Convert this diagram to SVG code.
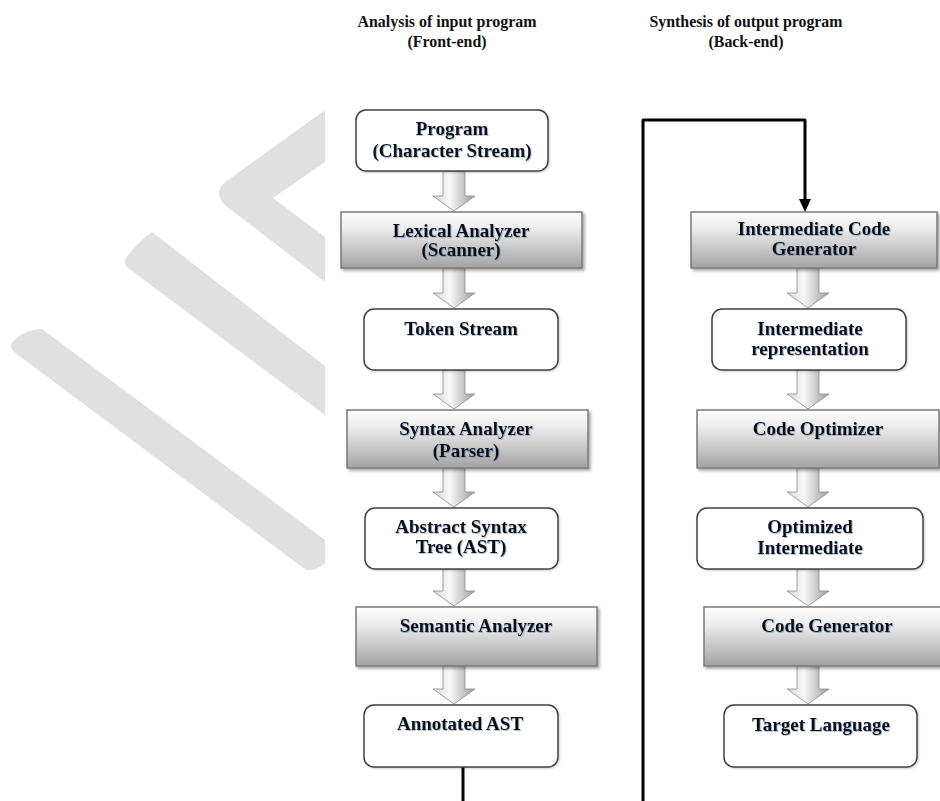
<svg xmlns="http://www.w3.org/2000/svg" width="940" height="801" viewBox="0 0 940 801">
<style>
  .wm { fill: #e0e0e0; }
  .hdr { font-family: "Liberation Serif", "Times New Roman", serif; font-weight: bold; font-size: 16.5px; fill: #111; text-anchor: middle; }
  .lbl { font-family: "Liberation Serif", "Times New Roman", serif; font-weight: bold; font-size: 19px; fill: #111; text-anchor: middle; }
  .rbox { fill: #ffffff; stroke: #404040; stroke-width: 1.5; }
  .gbox { fill: url(#gboxGrad); stroke: #7a7a7a; stroke-width: 1.5; }
  .barrow { fill: url(#arrowGrad); stroke: #8c8c8c; stroke-width: 0.8; }
  .conn { fill: none; stroke: #000; stroke-width: 3; stroke-linejoin: round; }
</style>
<defs>
  <linearGradient id="gboxGrad" x1="0" y1="0" x2="0" y2="1">
    <stop offset="0" stop-color="#fdfdfd"/>
    <stop offset="0.3" stop-color="#ececec"/>
    <stop offset="1" stop-color="#a3a3a3"/>
  </linearGradient>
  <linearGradient id="arrowGrad" x1="0" y1="0" x2="1" y2="0">
    <stop offset="0" stop-color="#d8d8d8"/>
    <stop offset="0.4" stop-color="#f8f8f8"/>
    <stop offset="1" stop-color="#9c9c9c"/>
  </linearGradient>
  <filter id="shadow" x="-10%" y="-10%" width="130%" height="140%">
    <feDropShadow dx="2" dy="2" stdDeviation="1.5" flood-color="#000" flood-opacity="0.35"/>
  </filter>
  <filter id="soft" x="-10%" y="-10%" width="130%" height="140%">
    <feDropShadow dx="1" dy="1" stdDeviation="1" flood-color="#000" flood-opacity="0.2"/>
  </filter>
  <filter id="tshadow" x="-5%" y="-20%" width="110%" height="150%">
    <feDropShadow dx="0.8" dy="0.8" stdDeviation="0.6" flood-color="#4a6fb0" flood-opacity="0.55"/>
  </filter>
  <marker id="ah" markerUnits="userSpaceOnUse" markerWidth="13" markerHeight="12" viewBox="0 0 13 12" refX="3" refY="6" orient="auto">
    <path d="M0,0 L13,6 L0,12 Z" fill="#000"/>
  </marker>
</defs>

<rect x="0" y="0" width="940" height="801" fill="#ffffff"/>

<g id="watermark">
  <path class="wm" d="M325,110 L224,183 Q213,194 226,206 L325,282 L325,237 L273,198 L325,162 Z"/>
  <path class="wm" d="M152,232 L325,366 L325,415 L128,268 Q121,262 129,254 Q139,241 152,232 Z"/>
  <path class="wm" d="M42,329 L325,540 L325,563 Q317,571 306,570 L14,352 Q8,346 14,340 Q26,329 42,329 Z"/>
</g>

<g id="headers">
  <text class="hdr" x="447" y="27" textLength="179" lengthAdjust="spacingAndGlyphs">Analysis of input program</text>
  <text class="hdr" x="447" y="47" textLength="79" lengthAdjust="spacingAndGlyphs">(Front-end)</text>
  <text class="hdr" x="746" y="27" textLength="193" lengthAdjust="spacingAndGlyphs">Synthesis of output program</text>
  <text class="hdr" x="746" y="47" textLength="75" lengthAdjust="spacingAndGlyphs">(Back-end)</text>
</g>

<g id="connectors">
  <path class="barrow" d="M443,171 H465 V196 H475 L454,211 L433,196 H443 Z"/>
  <path class="barrow" d="M443,268 H465 V293 H475 L454,308 L433,293 H443 Z"/>
  <path class="barrow" d="M443,370 H465 V394 H475 L454,409 L433,394 H443 Z"/>
  <path class="barrow" d="M443,468 H465 V492 H475 L454,507 L433,492 H443 Z"/>
  <path class="barrow" d="M443,569 H465 V591 H475 L454,606 L433,591 H443 Z"/>
  <path class="barrow" d="M443,666 H465 V689 H475 L454,704 L433,689 H443 Z"/>
  <path class="barrow" d="M797,268 H819 V293 H829 L808,308 L787,293 H797 Z"/>
  <path class="barrow" d="M797,370 H819 V394 H829 L808,409 L787,394 H797 Z"/>
  <path class="barrow" d="M797,468 H819 V492 H829 L808,507 L787,492 H797 Z"/>
  <path class="barrow" d="M797,569 H819 V591 H829 L808,606 L787,591 H797 Z"/>
  <path class="barrow" d="M797,666 H819 V689 H829 L808,704 L787,689 H797 Z"/>
  <path class="conn" d="M463,767 V806 H643 V120 H805 V202" marker-end="url(#ah)"/>
</g>

<g id="node-program">
  <rect class="rbox" x="356" y="110" width="192" height="61" rx="10" filter="url(#soft)"/>
  <text class="lbl" x="452" y="135" filter="url(#tshadow)">Program</text>
  <text class="lbl" x="452" y="157" filter="url(#tshadow)">(Character Stream)</text>
</g>
<g id="node-lexical">
  <rect class="gbox" x="341" y="212" width="241" height="56" filter="url(#shadow)"/>
  <text class="lbl" x="461" y="237" filter="url(#tshadow)">Lexical Analyzer</text>
  <text class="lbl" x="461" y="256" filter="url(#tshadow)">(Scanner)</text>
</g>
<g id="node-token">
  <rect class="rbox" x="364" y="309" width="194" height="61" rx="10" filter="url(#soft)"/>
  <text class="lbl" x="461" y="335" filter="url(#tshadow)">Token Stream</text>
</g>
<g id="node-syntax">
  <rect class="gbox" x="347" y="410" width="241" height="58" filter="url(#shadow)"/>
  <text class="lbl" x="466" y="435" filter="url(#tshadow)">Syntax Analyzer</text>
  <text class="lbl" x="466" y="457" filter="url(#tshadow)">(Parser)</text>
</g>
<g id="node-ast">
  <rect class="rbox" x="365" y="508" width="193" height="61" rx="10" filter="url(#soft)"/>
  <text class="lbl" x="461" y="533" filter="url(#tshadow)">Abstract Syntax</text>
  <text class="lbl" x="461" y="553" filter="url(#tshadow)">Tree (AST)</text>
</g>
<g id="node-semantic">
  <rect class="gbox" x="356" y="607" width="241" height="59" filter="url(#shadow)"/>
  <text class="lbl" x="476" y="632" filter="url(#tshadow)">Semantic Analyzer</text>
</g>
<g id="node-annotated">
  <rect class="rbox" x="364" y="705" width="194" height="62" rx="10" filter="url(#soft)"/>
  <text class="lbl" x="460" y="730" filter="url(#tshadow)">Annotated AST</text>
</g>

<g id="node-icg">
  <rect class="gbox" x="691" y="212" width="246" height="56" filter="url(#shadow)"/>
  <text class="lbl" x="814" y="235" filter="url(#tshadow)">Intermediate Code</text>
  <text class="lbl" x="814" y="255" filter="url(#tshadow)">Generator</text>
</g>
<g id="node-ir">
  <rect class="rbox" x="712" y="309" width="194" height="61" rx="10" filter="url(#soft)"/>
  <text class="lbl" x="810" y="335" filter="url(#tshadow)">Intermediate</text>
  <text class="lbl" x="810" y="355" filter="url(#tshadow)">representation</text>
</g>
<g id="node-codeopt">
  <rect class="gbox" x="697" y="410" width="242" height="58" filter="url(#shadow)"/>
  <text class="lbl" x="818" y="435" filter="url(#tshadow)">Code Optimizer</text>
</g>
<g id="node-optimized">
  <rect class="rbox" x="697" y="508" width="226" height="61" rx="10" filter="url(#soft)"/>
  <text class="lbl" x="810" y="533" filter="url(#tshadow)">Optimized</text>
  <text class="lbl" x="810" y="554" filter="url(#tshadow)">Intermediate</text>
</g>
<g id="node-codegen">
  <rect class="gbox" x="704" y="607" width="246" height="59" filter="url(#shadow)"/>
  <text class="lbl" x="827" y="632" filter="url(#tshadow)">Code Generator</text>
</g>
<g id="node-target">
  <rect class="rbox" x="724" y="705" width="193" height="62" rx="10" filter="url(#soft)"/>
  <text class="lbl" x="821" y="731" filter="url(#tshadow)">Target Language</text>
</g>
</svg>
